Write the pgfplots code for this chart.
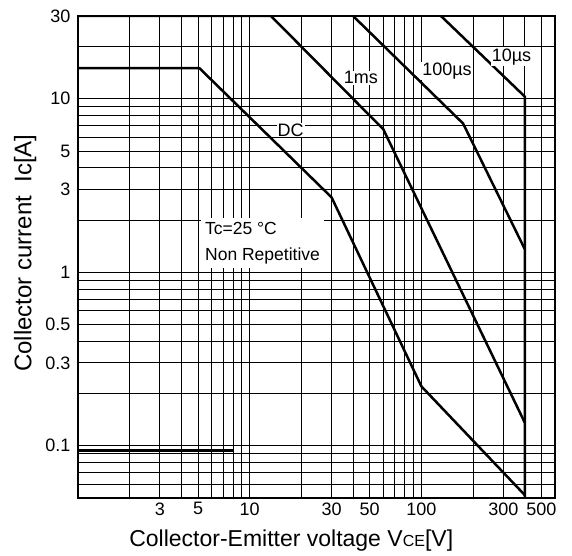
\documentclass[border=0pt]{standalone}
\usepackage{fontspec}
\setmainfont{Liberation Sans}
\usepackage{pgfplots}
\pgfplotsset{compat=1.18}
\tikzset{crv/.style={black, line width=2.5pt, line join=round, mark=none}}
\begin{document}
\begin{tikzpicture}
\path[use as bounding box] (-78pt,-57pt) rectangle (494pt,498pt);
\begin{axis}[
  at={(0pt,0pt)}, anchor=south west,
  scale only axis, width=477pt, height=482pt,
  xmode=log, ymode=log,
  xmin=1, xmax=600, ymin=0.05, ymax=30,
  xtick={3,5,10,30,50,100,300,500},
  xticklabels={3,5,10,30,50,100,300,500},
  ytick={0.1,0.3,0.5,1,3,5,10,30},
  yticklabels={0.1,0.3,0.5,1,3,5,10,30},
  minor xtick={1,2,3,4,5,6,7,8,9,10,20,30,40,50,60,70,80,90,100,200,300,400,500},
  minor ytick={0.05,0.06,0.07,0.08,0.09,0.1,0.2,0.3,0.4,0.5,0.6,0.7,0.8,0.9,1,2,3,4,5,6,7,8,9,10,20},
  grid=both,
  major grid style={black, line width=1pt},
  minor grid style={black, line width=1pt},
  major tick length=0pt, minor tick length=0pt,
  axis line style={line width=2pt},
  tick label style={font=\fontsize{18}{20}\selectfont},
  yticklabel style={xshift=-4pt},
  xticklabel style={yshift=-1pt},
  xlabel={Collector-Emitter voltage V{\fontsize{16}{16}\selectfont CE}[V]},
  ylabel={Collector current\ \ Ic[A]},
  xlabel style={at={(axis description cs:0.447,-0.089)}, anchor=center, font=\fontsize{23}{26}\selectfont},
  ylabel style={at={(axis description cs:-0.111,0.508)}, anchor=center, font=\fontsize{24}{26}\selectfont},
]
\addplot[black, line width=3pt, mark=none] coordinates {(1,0.094) (8,0.094)};
% DC
\addplot[crv] coordinates {(1,15) (5.1,15) (30,2.7) (100,0.22) (400,0.052)};
% 1 ms
\addplot[crv] coordinates {(1,30) (13.3,30) (60,6.67) (400,0.136)};
% 100 us
\addplot[crv] coordinates {(40,30) (175,7.2) (400,1.36)};
% 10 us
\addplot[crv] coordinates {(130,30) (400,10.3) (400,0.05)};

\node[fill=white, inner sep=1pt, font=\fontsize{18}{20}\selectfont] at (axis cs:17.3,6.6) {DC};
\node[fill=white, inner sep=1pt, font=\fontsize{18}{20}\selectfont] at (axis cs:44.4,13.2) {1ms};
\node[fill=white, inner sep=1pt, font=\fontsize{18}{20}\selectfont] at (axis cs:141,14.5) {100µs};
\node[fill=white, inner sep=1pt, font=\fontsize{18}{20}\selectfont] at (axis cs:335,17.5) {10µs};
\node[fill=white, anchor=north west, align=left, inner sep=4pt, font=\fontsize{17.5}{26}\selectfont] at (axis cs:5.2,2.05) {Tc=25 °C\\Non Repetitive};
\end{axis}
\end{tikzpicture}
\end{document}
